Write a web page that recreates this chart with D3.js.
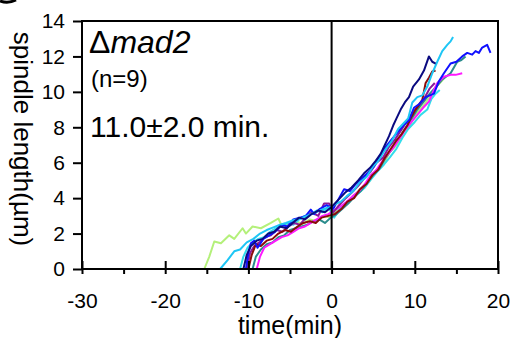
<!DOCTYPE html>
<html lang="en">
<head>
  <meta charset="UTF-8">
  <title>mad2 spindle length</title>
  <script src="https://cdn.jsdelivr.net/npm/d3@7"></script>
  <style>
    body { margin: 0; background: #fff; }
    svg { display: block; font-family: "Liberation Sans", Arial, sans-serif; }
    .frame { fill: none; stroke: #000; stroke-width: 2; }
    .trace { fill: none; stroke-width: 2; stroke-linejoin: round; }
  </style>
</head>
<body>
  <div id="chart"></div>
  <script>
    // x ticks, y ticks
    const xMajor = [-30, -20, -10, 0, 10, 20];
    const xMinor = [-25, -15, -5, 5, 15];
    const yTicks = [0, 2, 4, 6, 8, 10, 12, 14];

    // one trace per cell, [time(min), length(um)]
    const lightgreen = [[-15.3,0],[-14.7,0.7],[-14.1,1.55],[-13.3,1.45],[-12.3,1.9],[-11.7,1.7],[-10.7,2.3],[-10.3,2.0],[-9.5,2.4],[-8.5,2.3],[-7.3,2.6],[-6.4,2.85],[-6.0,2.45],[-5.2,2.5],[-4.3,2.7],[-3.5,2.55],[-2.6,2.8],[-1.8,2.7],[-1.0,3.0],[-0.2,2.9],[0.6,3.3],[1.4,3.6],[2.2,3.9],[3.0,4.3],[3.8,4.7],[4.6,5.0],[5.4,5.6],[6.2,5.9],[7.0,6.6],[7.8,7.0],[8.6,7.7],[9.4,8.1],[10.2,8.8],[11.0,9.2],[11.8,9.7],[12.6,10.3],[13.2,10.6],[13.8,10.9]];
    const skyblue = [[-13.4,0],[-12.5,0.5],[-11.7,1.0],[-11.0,1.1],[-10.2,1.5],[-9.4,1.7],[-8.6,2.0],[-7.8,2.2],[-7.0,2.35],[-6.2,2.5],[-5.5,2.6],[-4.6,2.75],[-3.7,2.85],[-2.7,3.05],[-1.7,3.25],[-0.9,3.4],[-0.1,3.5],[0.6,3.7],[1.1,3.8],[1.8,4.1],[2.6,4.4],[3.4,4.9],[4.2,5.2],[5.0,5.8],[5.6,6.1],[6.4,6.7],[7.2,7.2],[8.0,7.9],[8.6,8.2],[9.2,8.5],[9.7,9.4],[10.3,9.7],[10.9,9.8],[11.5,10.3],[12.1,11.05],[12.7,11.7],[13.3,12.3],[13.9,12.65],[14.3,12.85],[14.6,13.1]];
    const navy = [[-10.6,0],[-10.2,0.8],[-9.7,1.3],[-9.0,1.6],[-8.3,1.7],[-7.6,2.0],[-6.9,2.1],[-6.2,2.4],[-5.4,2.3],[-4.7,2.6],[-3.9,2.9],[-3.2,2.8],[-2.4,3.1],[-1.6,3.3],[-0.8,3.2],[0,3.5],[0.8,3.9],[1.6,4.3],[2.4,4.6],[3.2,5.0],[3.9,5.4],[4.6,5.7],[5.3,6.1],[5.9,6.5],[6.3,6.9],[6.9,7.5],[7.4,8.1],[7.8,8.5],[8.3,9.0],[8.8,9.4],[9.3,9.7],[9.8,10.3],[10.5,10.7],[11.1,11.2],[11.7,12.0],[12.1,11.7],[12.5,11.6]];
    const blue = [[-10.3,0],[-10.0,0.9],[-9.7,1.45],[-9.3,1.6],[-8.9,1.2],[-8.2,1.7],[-7.5,1.9],[-6.8,2.1],[-6.0,2.5],[-5.3,2.4],[-4.6,2.8],[-3.8,2.9],[-3.1,3.0],[-2.5,3.35],[-2.1,3.1],[-1.4,3.4],[-0.6,3.6],[0.2,3.4],[0.9,4.0],[1.5,4.5],[2.2,4.4],[2.9,4.8],[3.6,5.1],[4.3,5.4],[5.1,5.8],[5.8,6.4],[6.5,6.9],[7.2,7.3],[7.9,7.7],[8.6,8.1],[9.3,8.4],[9.9,9.1],[10.5,9.3],[11.3,9.7],[12.3,9.9],[12.9,10.6],[13.5,11.05],[14.3,11.6],[15.0,11.7],[15.7,12.0],[16.3,12.2],[16.9,12.1],[17.3,12.3],[17.7,12.2],[18.1,12.5],[18.7,12.65],[19.1,12.2]];
    const darkred = [[-10.0,0],[-9.6,0.8],[-9.1,1.4],[-8.5,1.3],[-7.8,1.6],[-7.1,1.7],[-6.4,2.0],[-5.6,2.2],[-4.9,2.1],[-4.1,2.4],[-3.4,2.6],[-2.6,2.7],[-1.9,2.6],[-1.2,2.9],[-0.4,3.0],[0.4,3.1],[1.2,3.4],[1.9,3.8],[2.7,4.0],[3.4,4.5],[4.2,4.8],[4.9,5.3],[5.6,5.6],[6.3,6.2],[7.0,6.7],[7.7,7.2],[8.4,7.6],[9.1,8.1],[9.6,8.6],[10.1,9.0],[10.9,9.55],[11.3,10.5],[11.7,10.8],[12.1,11.15],[12.5,11.2]];
    const magenta = [[-9.0,0],[-8.6,0.7],[-8.1,1.2],[-7.4,1.4],[-6.7,1.6],[-6.0,1.8],[-5.3,1.9],[-4.6,2.1],[-3.9,2.3],[-3.2,2.4],[-2.5,2.6],[-1.8,2.8],[-1.1,3.0],[-0.4,3.1],[0.3,3.3],[1.0,3.5],[1.8,3.8],[2.5,4.1],[3.3,4.4],[4.0,4.8],[4.7,5.3],[5.4,5.6],[6.1,6.1],[6.8,6.5],[7.5,6.9],[8.2,7.4],[8.9,7.9],[9.6,8.3],[10.3,8.7],[11.0,9.1],[11.7,9.45],[12.2,10.0],[12.7,10.5],[13.5,10.85],[14.3,10.96],[14.9,10.96],[15.7,11.05]];
    const purple = [[-10.2,0],[-9.8,0.9],[-9.3,1.3],[-8.7,1.5],[-8.0,1.8],[-7.3,1.9],[-6.6,2.2],[-5.9,2.1],[-5.2,2.4],[-4.5,2.6],[-3.8,2.5],[-3.1,2.9],[-2.4,3.2],[-1.6,3.0],[-0.9,3.7],[-0.3,3.7],[0.2,3.2],[0.9,3.6],[1.7,4.0],[2.4,4.3],[3.2,4.7],[3.9,5.1],[4.7,5.5],[5.4,6.0],[6.2,6.3],[6.9,6.9],[7.6,7.3],[8.3,7.8],[9.0,8.3],[9.7,8.8],[10.4,9.2],[11.1,9.6],[11.8,10.2],[12.4,10.5]];
    const teal = [[-9.5,0],[-9.1,0.7],[-8.5,1.1],[-7.8,1.4],[-7.1,1.5],[-6.4,1.8],[-5.7,1.9],[-5.0,2.2],[-4.3,2.3],[-3.6,2.4],[-2.9,2.5],[-2.2,2.7],[-1.5,2.8],[-0.8,2.6],[-0.1,2.9],[0.6,3.1],[1.3,3.4],[2.0,3.7],[2.8,4.1],[3.5,4.4],[4.3,4.9],[5.0,5.3],[5.8,5.7],[6.5,6.3],[7.3,6.8],[8.0,7.3],[8.8,7.9],[9.5,8.4],[10.3,9.0],[11.0,9.4],[11.8,9.9],[12.6,10.3],[13.3,10.7],[14.3,11.05],[15.1,11.7],[15.6,11.8],[16.1,12.0]];
    const turquoise = [[-11.0,0],[-10.6,0.7],[-10.1,1.2],[-9.5,1.5],[-8.8,1.7],[-8.1,1.8],[-7.4,2.1],[-6.7,2.3],[-6.0,2.4],[-5.3,2.6],[-4.6,2.5],[-3.9,2.8],[-3.2,3.0],[-2.5,3.1],[-1.8,3.3],[-1.1,3.2],[-0.4,3.5],[0.3,2.9],[1.0,3.4],[1.8,3.7],[2.5,4.0],[3.3,4.3],[4.0,4.6],[4.8,5.1],[5.5,5.5],[6.3,5.9],[7.0,6.3],[7.8,6.8],[8.5,7.4],[9.2,7.9],[10.0,8.3],[10.7,8.7],[11.5,9.0],[12.0,9.6],[12.5,9.9],[13.0,10.1]];

    const traces = [lightgreen, turquoise, teal, magenta, purple, darkred, blue, skyblue, navy];
    const traceColors = ["#b4f07a", "#33dceb", "#2a8c8c", "#ff19ff", "#8a1a9a", "#8b0a0a", "#1010ff", "#1ec6f5", "#0a0a80"];

    const width = 514, height = 338;
    const svg = d3.select('#chart').append('svg')
      .attr('width', width)
      .attr('height', height);

    const x = d3.scaleLinear().domain([-30, 20]).range([82, 498]);
    const y = d3.scaleLinear().domain([0, 14]).range([269, 21]);

    // panel letter remnant top-left
    svg.append('path')
      .attr('d', 'M0,1 Q8,4 16,0')
      .attr('fill', 'none').attr('stroke', '#000').attr('stroke-width', 3);

    const line = d3.line().x(d => x(d[0])).y(d => y(d[1]));
    svg.append('g').selectAll('path')
      .data(traces)
      .join('path')
      .attr('class', 'trace')
      .attr('stroke', (d, i) => traceColors[i])
      .attr('d', line);

    // frame + t=0 line
    svg.append('rect').attr('class', 'frame')
      .attr('x', x(-30)).attr('y', y(14))
      .attr('width', x(20) - x(-30)).attr('height', y(0) - y(14));
    svg.append('line').attr('class', 'frame')
      .attr('x1', x(0)).attr('x2', x(0)).attr('y1', y(14)).attr('y2', y(0));

    // axes
    const yAxis = svg.append('g')
      .attr('transform', `translate(${x(-30)},0)`)
      .call(d3.axisLeft(y).tickValues(yTicks).tickSize(9).tickPadding(8).tickFormat(d => String(d)));
    const xUp = svg.append('g')
      .attr('transform', `translate(0,${y(0)})`)
      .call(d3.axisTop(x).tickValues(xMajor).tickSize(8).tickFormat(''));
    const xDown = svg.append('g')
      .attr('transform', `translate(0,${y(0)})`)
      .call(d3.axisBottom(x).tickValues(xMajor.concat(xMinor)).tickSize(5).tickPadding(19)
        .tickFormat(d => xMajor.includes(d) ? String(d) : ''));

    [yAxis, xUp, xDown].forEach(g => {
      g.select('.domain').remove();
      g.selectAll('.tick line').attr('stroke', '#000').attr('stroke-width', 2);
      g.selectAll('.tick text').attr('fill', '#000')
        .style('font-family', '"Liberation Sans", Arial, sans-serif')
        .style('font-size', '21px');
    });

    // axis titles
    svg.append('text')
      .attr('x', (x(-30) + x(20)) / 2).attr('y', 334)
      .attr('text-anchor', 'middle')
      .style('font-size', '25px')
      .text('time(min)');
    svg.append('text')
      .attr('transform', 'translate(14,139) rotate(90)')
      .attr('text-anchor', 'middle')
      .style('font-size', '26px')
      .text('spindle length(\u00b5m)');

    // annotations
    const title = svg.append('text').attr('x', 89).attr('y', 53).style('font-size', '32px');
    title.append('tspan').text('\u0394');
    title.append('tspan').style('font-style', 'italic').text('mad2');
    svg.append('text').attr('x', 91).attr('y', 87).style('font-size', '24px').text('(n=9)');
    svg.append('text').attr('x', 90).attr('y', 137).style('font-size', '30px').text('11.0\u00b12.0 min.');
  </script>
</body>
</html>
